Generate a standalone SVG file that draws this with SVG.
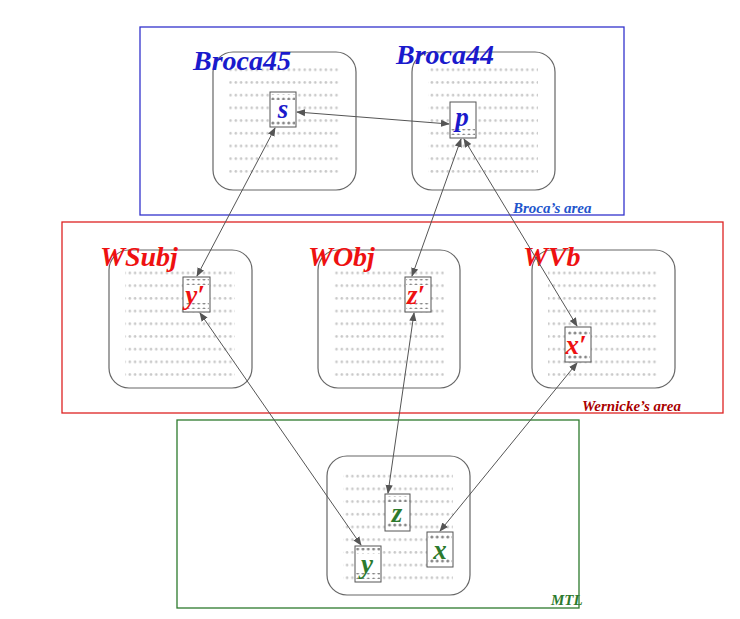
<svg xmlns="http://www.w3.org/2000/svg" width="740" height="619" viewBox="0 0 740 619">
<style>
.area{fill:none;stroke-width:1.3}
.box{fill:#fff;stroke:#666;stroke-width:1.2}
.grid{fill:url(#dots)}
.cell{fill:#fff;stroke:#555;stroke-width:1}
.cd{fill:url(#dots2)}
.lab{font-family:"Liberation Serif",serif;font-weight:bold;font-style:italic;font-size:28px}
.sm{font-family:"Liberation Serif",serif;font-weight:bold;font-style:italic;font-size:15px}
.var{font-family:"Liberation Serif",serif;font-weight:bold;font-style:italic;font-size:27px;text-anchor:middle}
.con{stroke:#555;stroke-width:1;fill:none;marker-start:url(#ah);marker-end:url(#ah)}
</style>
<defs>
<pattern id="dots" patternUnits="userSpaceOnUse" x="0" y="0" width="5.3" height="12.7"><circle cx="2.6" cy="6.3" r="1.3" fill="#c8c8c8"/></pattern>
<pattern id="dots2" patternUnits="userSpaceOnUse" x="0" y="0" width="5.3" height="6"><circle cx="2.6" cy="3" r="1.5" fill="#888"/></pattern>
<marker id="ah" viewBox="0 0 10 10" refX="9" refY="5" markerWidth="9" markerHeight="9" orient="auto-start-reverse" markerUnits="userSpaceOnUse"><path d="M0,1 L10,5 L0,9 Z" fill="#555"/></marker>
</defs>
<rect width="740" height="619" fill="#fff"/>
<g id="broca-area"><rect class="area" x="140" y="27" width="484" height="188" stroke="#3333cc"/><text class="sm" x="513" y="213" fill="#2255cc">Broca’s area</text></g>
<g id="wernicke-area"><rect class="area" x="62" y="222" width="661" height="191" stroke="#dd2222"/><text class="sm" x="582" y="411" fill="#aa0000">Wernicke’s area</text></g>
<g id="mtl-area"><rect class="area" x="177" y="420" width="402" height="188" stroke="#2d7a2d"/><text class="sm" x="551" y="605" fill="#2d7a2d">MTL</text></g>

<g id="broca45"><rect class="box" x="213" y="52" width="143" height="138" rx="20"/><rect class="grid" x="229" y="64" width="110" height="114"/><text class="lab" x="193" y="70" fill="#1a1acc">Broca45</text></g>
<g id="broca44"><rect class="box" x="412" y="52" width="143" height="138" rx="20"/><rect class="grid" x="428" y="64" width="110" height="114"/><text class="lab" x="396" y="64" fill="#1a1acc">Broca44</text></g>
<g id="wsubj"><rect class="box" x="109" y="250" width="143" height="138" rx="20"/><rect class="grid" x="125" y="262" width="110" height="114"/><text class="lab" x="100" y="266" fill="#ee1111">WSubj</text></g>
<g id="wobj"><rect class="box" x="318" y="250" width="142" height="138" rx="20"/><rect class="grid" x="334" y="262" width="110" height="114"/><text class="lab" x="308" y="266" fill="#ee1111">WObj</text></g>
<g id="wvb"><rect class="box" x="532" y="250" width="143" height="138" rx="20"/><rect class="grid" x="548" y="262" width="110" height="114"/><text class="lab" x="523" y="266" fill="#ee1111">WVb</text></g>
<g id="mtl"><rect class="box" x="327" y="456" width="143" height="139" rx="20"/><rect class="grid" x="343" y="468" width="110" height="114"/></g>

<g id="s"><rect class="cell" x="270" y="92" width="26" height="35"/><rect class="cd" x="271" y="94" width="24" height="6"/><rect class="cd" x="271" y="119" width="24" height="6"/><text class="var" x="283" y="118" fill="#1a1acc">s</text></g>
<g id="p"><rect class="cell" x="450" y="102" width="26" height="36"/><rect class="cd" x="451" y="129" width="24" height="6"/><text class="var" x="462" y="126" fill="#1a1acc">p</text></g>
<g id="yp"><rect class="cell" x="183" y="277" width="27" height="35"/><rect class="cd" x="185" y="279" width="24" height="6"/><rect class="cd" x="185" y="303" width="24" height="6"/><text class="var" x="195" y="304" fill="#ee1111">y′</text></g>
<g id="zp"><rect class="cell" x="405" y="277" width="26" height="35"/><rect class="cd" x="406" y="279" width="24" height="6"/><rect class="cd" x="406" y="303" width="24" height="6"/><text class="var" x="416" y="304" fill="#ee1111">z′</text></g>
<g id="xp"><rect class="cell" x="565" y="327" width="26" height="35"/><rect class="cd" x="566" y="329" width="24" height="6"/><rect class="cd" x="566" y="353" width="24" height="6"/><text class="var" x="576" y="354" fill="#ee1111">x′</text></g>
<g id="z"><rect class="cell" x="385" y="494" width="25" height="37"/><rect class="cd" x="386" y="496" width="24" height="6"/><rect class="cd" x="386" y="522" width="24" height="6"/><text class="var" x="397" y="522" fill="#2d7a2d">z</text></g>
<g id="y"><rect class="cell" x="355" y="546" width="26" height="36"/><rect class="cd" x="356" y="548" width="24" height="6"/><rect class="cd" x="356" y="573" width="24" height="6"/><text class="var" x="367" y="573" fill="#2d7a2d">y</text></g>
<g id="x"><rect class="cell" x="427" y="532" width="26" height="35"/><rect class="cd" x="428" y="534" width="24" height="6"/><rect class="cd" x="428" y="558" width="24" height="6"/><text class="var" x="440" y="559" fill="#2d7a2d">x</text></g>

<g id="connectors">
<line class="con" x1="297" y1="112" x2="449" y2="124"/>
<line class="con" x1="275" y1="128" x2="197" y2="276"/>
<line class="con" x1="461" y1="139" x2="412" y2="276"/>
<line class="con" x1="464" y1="139" x2="577" y2="326"/>
<line class="con" x1="200" y1="313" x2="361" y2="545"/>
<line class="con" x1="414" y1="313" x2="388" y2="493"/>
<line class="con" x1="577" y1="363" x2="440" y2="531"/>
</g>
</svg>
